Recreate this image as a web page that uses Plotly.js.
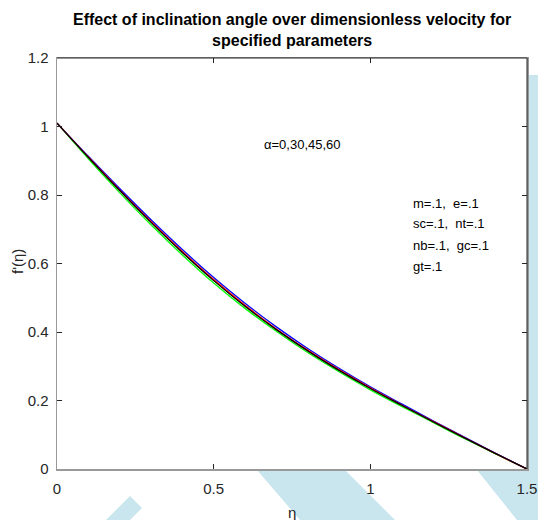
<!DOCTYPE html>
<html>
<head>
<meta charset="utf-8">
<script src="https://cdn.plot.ly/plotly-3.0.1.min.js"></script>
<style>html,body{margin:0;padding:0;background:#fff;}#chart{width:538px;height:520px;}</style>
</head>
<body>
<div id="chart"></div>
<script>
// eta values
const eta = [0, 0.1, 0.2, 0.3, 0.4, 0.5, 0.6, 0.7, 0.8, 0.9, 1.0, 1.1, 1.2, 1.3, 1.4, 1.5];
// f'(eta) for the four inclination angles
const fGreen = [1.010, 0.906, 0.807, 0.713, 0.625, 0.543, 0.469, 0.402, 0.340, 0.284, 0.231, 0.183, 0.136, 0.089, 0.044, 0];
const fBlue  = [1.010, 0.913, 0.819, 0.728, 0.641, 0.559, 0.484, 0.415, 0.352, 0.294, 0.240, 0.190, 0.141, 0.093, 0.046, 0];
const fRed   = [1.010, 0.911, 0.815, 0.723, 0.635, 0.553, 0.478, 0.409, 0.347, 0.290, 0.237, 0.187, 0.139, 0.092, 0.045, 0];
const fBlack = [1.010, 0.910, 0.813, 0.720, 0.632, 0.550, 0.475, 0.407, 0.345, 0.288, 0.235, 0.186, 0.138, 0.091, 0.045, 0];

const xTicks = [0, 0.5, 1, 1.5];
const xTickText = ["0", "0.5", "1", "1.5"];
const yTicks = [0, 0.2, 0.4, 0.6, 0.8, 1, 1.2];
const yTickText = ["0", "0.2", "0.4", "0.6", "0.8", "1", "1.2"];

const titleText = "Effect of inclination angle over dimensionless velocity for<br>specified parameters";
const xTitle = "η";
const yTitle = "f'(η)";
const alphaText = "α=0,30,45,60";
const paramLines = ["m=.1,  e=.1", "sc=.1,  nt=.1", "nb=.1,  gc=.1", "gt=.1"];

function tr(y, color) {
  return {x: eta, y: y, type: 'scatter', mode: 'lines',
          line: {color: color, width: 1.3, shape: 'spline', smoothing: 1},
          hoverinfo: 'skip', showlegend: false};
}
const data = [tr(fGreen, '#00ff00'), tr(fBlue, '#0000ff'), tr(fRed, '#ff0000'), tr(fBlack, '#000000')];

const W = 538, H = 520, L = 57, R = 11, T = 58, B = 51;
const pw = W - L - R, ph = H - T - B;
// pixel -> paper helpers for decorative background bands and text placement
const px = v => (v - L) / pw;
const py = v => (H - B - v) / ph;
function band(pts) {
  return {type: 'path', xref: 'paper', yref: 'paper', layer: 'below',
          path: 'M' + pts.map(p => px(p[0]) + ',' + py(p[1])).join(' L') + ' Z',
          fillcolor: '#c9e5ee', line: {width: 0}};
}

const FAM = 'Liberation Sans, Arial, sans-serif';
const tickFont = {family: FAM, size: 15, color: '#262626'};
const paramAnn = paramLines.map((t, i) => ({
  xref: 'paper', yref: 'paper', x: px(411), y: py(203 + i * 21), xanchor: 'left', yanchor: 'middle',
  text: t, showarrow: false, font: {family: FAM, size: 13, color: '#000'}
}));

const layout = {
  width: W, height: H,
  margin: {l: L, r: R, t: T, b: B, pad: 0},
  paper_bgcolor: '#ffffff', plot_bgcolor: '#ffffff',
  title: {text: '<b>' + titleText + '</b>', x: 0.543, xanchor: 'center', y: 0.952, yanchor: 'top', yref: 'container',
          font: {family: FAM, size: 16, color: '#000'}},
  xaxis: {range: [0, 1.5], tickvals: xTicks, ticktext: xTickText, ticks: 'inside', ticklen: 5, tickcolor: '#262626',
          showline: true, linecolor: '#999999', linewidth: 1.5, mirror: 'ticks', showgrid: false, zeroline: false,
          tickfont: tickFont, ticklabelstandoff: 5},
  yaxis: {range: [0, 1.2], tickvals: yTicks, ticktext: yTickText, ticks: 'inside', ticklen: 5, tickcolor: '#262626',
          showline: true, linecolor: '#999999', linewidth: 1.5, mirror: 'ticks', showgrid: false, zeroline: false,
          tickfont: tickFont, ticklabelstandoff: 4},
  shapes: [
    band([[257, 470], [345, 470], [395, 520], [300, 520]]),
    band([[130, 496], [142, 508], [130, 520], [106, 520]]),
    band([[477, 470], [538, 470], [538, 520], [517, 520]]),
    band([[527, 75], [538, 75], [538, 470], [527, 470]]),
    {type: 'line', xref: 'paper', yref: 'paper', x0: 0, x1: 1, y0: 1, y1: 1, line: {color: '#262626', width: 1}},
    {type: 'line', xref: 'paper', yref: 'paper', x0: 1, x1: 1, y0: 0, y1: 1, line: {color: '#262626', width: 1}}
  ],
  annotations: [
    {xref: 'paper', yref: 'paper', x: px(262), y: py(144), xanchor: 'left', yanchor: 'middle', text: alphaText,
     showarrow: false, font: {family: FAM, size: 13, color: '#000'}},
    {xref: 'paper', yref: 'paper', x: px(292), y: py(512), xanchor: 'center', yanchor: 'middle', text: xTitle,
     showarrow: false, font: {family: FAM, size: 15, color: '#262626'}},
    {xref: 'paper', yref: 'paper', x: px(17), y: py(262), xanchor: 'center', yanchor: 'middle', text: yTitle, textangle: -90,
     showarrow: false, font: {family: FAM, size: 15, color: '#262626'}}
  ].concat(paramAnn)
};

Plotly.newPlot('chart', data, layout, {displayModeBar: false, staticPlot: true});
</script>
</body>
</html>
